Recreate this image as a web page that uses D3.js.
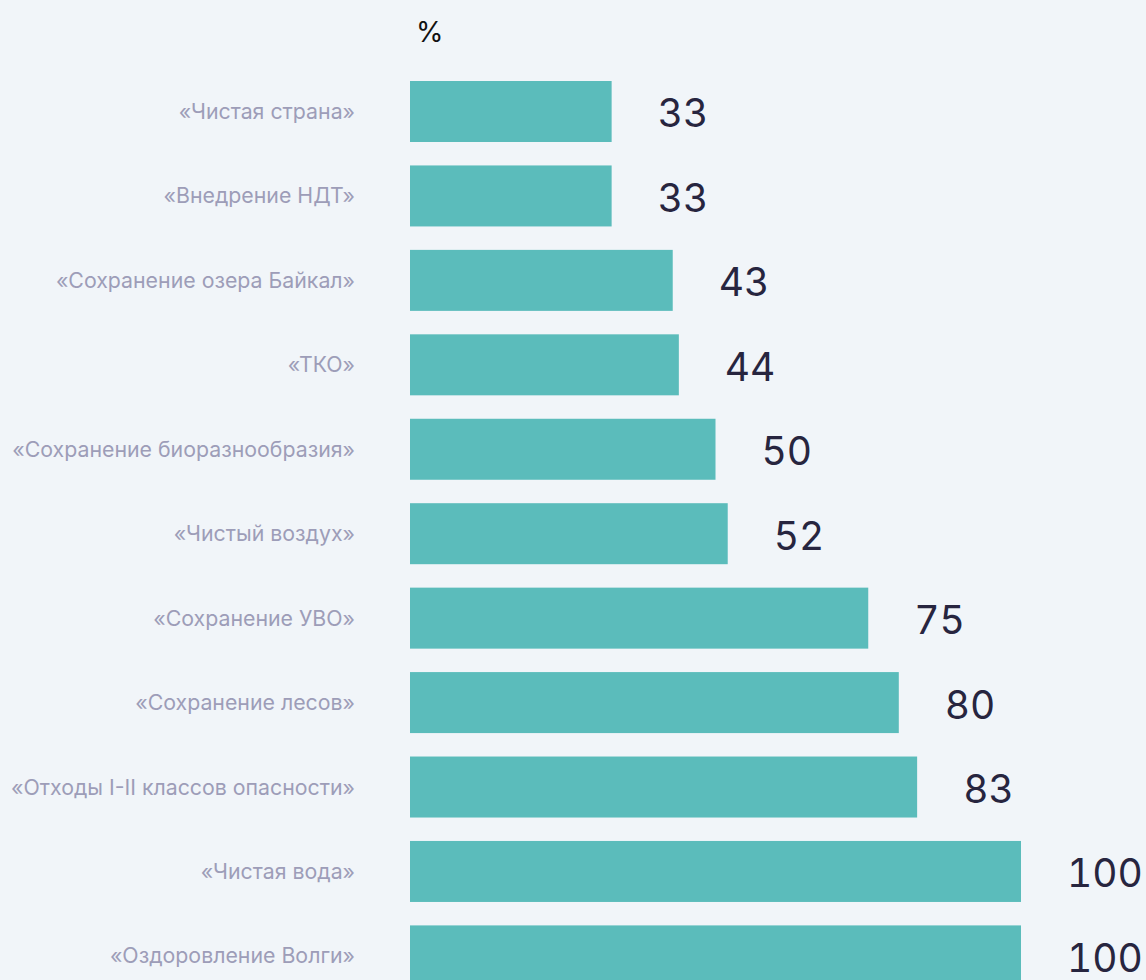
<!DOCTYPE html>
<html>
<head>
<meta charset="utf-8">
<script src="https://cdn.jsdelivr.net/npm/d3@7"></script>
<style>
  html, body { margin: 0; padding: 0; background: #f1f5f9; }
  svg { display: block; font-family: Inter, "Noto Sans", sans-serif; }
</style>
</head>
<body>
<div id="chart"></div>
<script>
// Categories and values (percent)
var categories = [
  "«Чистая страна»",
  "«Внедрение НДТ»",
  "«Сохранение озера Байкал»",
  "«ТКО»",
  "«Сохранение биоразнообразия»",
  "«Чистый воздух»",
  "«Сохранение УВО»",
  "«Сохранение лесов»",
  "«Отходы I-II классов опасности»",
  "«Чистая вода»",
  "«Оздоровление Волги»"
];
var values = [33, 33, 43, 44, 50, 52, 75, 80, 83, 100, 100];
var unitLabel = "%";

var width = 1146,
  height = 980;

var data = categories.map(function(c, i) {
  return { name: c, value: values[i] };
});

var svg = d3.select('#chart')
  .append('svg')
  .attr('width', width)
  .attr('height', height);

// Scales
var x = d3.scaleLinear()
  .domain([0, 100])
  .range([410, 1021]);

var y = d3.scaleBand()
  .domain(categories)
  .range([81, 986.4])
  .paddingInner(0.2776)
  .paddingOuter(0)
  .align(0);

// Unit label at top
svg.append('text')
  .attr('x', 416)
  .attr('y', 42)
  .attr('font-size', 28)
  .attr('fill', '#111')
  .text(unitLabel);

// Bars
svg.selectAll('rect.bar')
  .data(data)
  .enter()
  .append('rect')
  .attr('class', 'bar')
  .attr('x', x(0))
  .attr('y', function(d) { return y(d.name); })
  .attr('width', function(d) { return x(d.value) - x(0); })
  .attr('height', y.bandwidth())
  .attr('fill', '#5bbcbb');

// Category labels
svg.selectAll('text.cat')
  .data(data)
  .enter()
  .append('text')
  .attr('class', 'cat')
  .attr('x', 355)
  .attr('y', function(d) { return y(d.name) + y.bandwidth() / 2 + 7.5; })
  .attr('text-anchor', 'end')
  .attr('font-size', 21.3)
  .attr('fill', '#9d9db8')
  .text(function(d) { return d.name; });

// Value labels
svg.selectAll('text.val')
  .data(data)
  .enter()
  .append('text')
  .attr('class', 'val')
  .attr('x', function(d) { return x(d.value) + 46; })
  .attr('y', function(d) { return y(d.name) + y.bandwidth() / 2 + 16; })
  .attr('font-size', 39)
  .attr('fill', '#27253f')
  .style('font-variant-numeric', 'tabular-nums')
  .text(function(d) { return d.value; });
</script>
</body>
</html>
